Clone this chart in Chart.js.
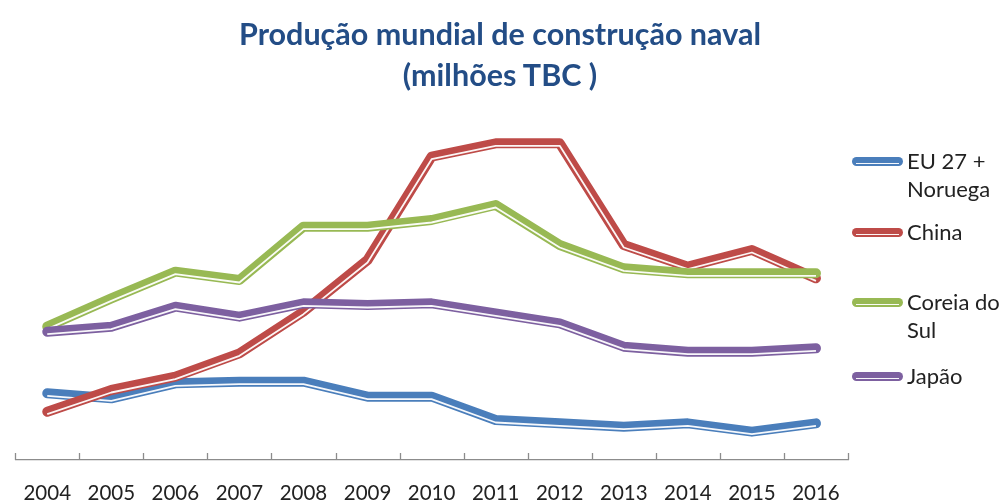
<!DOCTYPE html>
<html>
<head>
<meta charset="utf-8">
<script src="https://cdn.jsdelivr.net/npm/chart.js@4"></script>
<style>
  body { margin: 0; background: #fff; font-family: Lato, "Open Sans", sans-serif; }
  #wrap { position: relative; width: 1000px; height: 502px; overflow: hidden; }
  #title { position: absolute; left: 0; top: 13px; width: 1000px; text-align: center;
           color: #234d86; font-weight: bold; font-size: 30.5px; line-height: 41px; }
  canvas { position: absolute; left: 0; top: 0; }
  .key { position: absolute; left: 852px; width: 51px; height: 9px; border-radius: 4.5px; }
  .key::after { content: ""; position: absolute; left: 4px; right: 4px; top: 5.5px; height: 1.6px; background: rgba(255,255,255,0.95); }
  .lbl { position: absolute; left: 907px; color: #222; font-size: 22px; line-height: 28px; }
</style>
</head>
<body>
<div id="wrap">
  <canvas id="chart" width="1000" height="502"></canvas>
  <div id="title">Produção mundial de construção naval<br>(milhões TBC )</div>
  <div id="legend"></div>
</div>
<script>
const years = ['2004', '2005', '2006', '2007', '2008', '2009', '2010', '2011', '2012', '2013', '2014', '2015', '2016'];
const euNoruega   = [4.0, 3.7, 4.6, 4.7, 4.7, 3.8, 3.8, 2.4, 2.2, 2.0, 2.2, 1.7, 2.2];
const china       = [2.9, 4.2, 5.0, 6.4, 8.9, 12.0, 18.2, 19.0, 19.0, 12.9, 11.6, 12.6, 10.9];
const coreiaDoSul = [8.0, 9.7, 11.3, 10.8, 14.0, 14.0, 14.4, 15.3, 12.9, 11.5, 11.2, 11.2, 11.2];
const japao       = [7.7, 8.0, 9.2, 8.6, 9.4, 9.3, 9.4, 8.8, 8.2, 6.8, 6.5, 6.5, 6.7];

const seriesNames  = [['EU 27 +', 'Noruega'], ['China'], ['Coreia do', 'Sul'], ['Japão']];
const seriesColors = ['#4a7ebb', '#be4b48', '#98b954', '#7d60a0'];
const legendTops   = [147, 218, 288, 362];

// thin white highlight running just below the centre of each thick line
const innerLine = {
  id: 'innerLine',
  afterDatasetDraw(chart, args) {
    const pts = args.meta.data;
    const ctx = chart.ctx;
    ctx.save();
    ctx.translate(0, 2.5);
    ctx.beginPath();
    pts.forEach((p, i) => i ? ctx.lineTo(p.x, p.y) : ctx.moveTo(p.x, p.y));
    ctx.strokeStyle = 'rgba(255,255,255,0.95)';
    ctx.lineWidth = 1.8;
    ctx.lineJoin = 'round';
    ctx.stroke();
    ctx.restore();
  }
};

// small tick marks between categories, pointing up from the axis
const axisTicks = {
  id: 'axisTicks',
  afterDraw(chart) {
    const x = chart.scales.x;
    const ctx = chart.ctx;
    const bottom = chart.chartArea.bottom;
    const step = x.getPixelForValue(1) - x.getPixelForValue(0);
    ctx.save();
    ctx.strokeStyle = '#8c8c8c';
    ctx.lineWidth = 1.3;
    for (let i = 0; i <= years.length; i++) {
      const px = Math.round(x.getPixelForValue(0) - step / 2 + i * step) + 0.5;
      ctx.beginPath();
      ctx.moveTo(px, bottom - 7);
      ctx.lineTo(px, bottom);
      ctx.stroke();
    }
    ctx.restore();
  }
};

const values = [euNoruega, china, coreiaDoSul, japao];
const datasets = values.map((data, i) => ({
  label: seriesNames[i].join(' '),
  data: data,
  borderColor: seriesColors[i],
  borderWidth: 10,
  borderJoinStyle: 'round',
  borderCapStyle: 'round',
  pointRadius: 0,
  tension: 0,
  fill: false,
  order: values.length - i
}));

new Chart(document.getElementById('chart'), {
  type: 'line',
  data: { labels: years, datasets: datasets },
  options: {
    responsive: false,
    animation: false,
    layout: { padding: { left: 12, right: 152, top: 110, bottom: 0 } },
    plugins: { legend: { display: false }, tooltip: { enabled: false }, title: { display: false } },
    scales: {
      x: {
        offset: true,
        afterFit: (scale) => { scale.height = 42; },
        grid: { display: false, drawTicks: false, tickLength: 0 },
        border: { display: true, color: '#8c8c8c', width: 1.3 },
        ticks: { color: '#222', padding: 23, maxRotation: 0, autoSkip: false,
                 font: { family: 'Lato', size: 20.5, lineHeight: 1 } }
      },
      y: { display: false, min: 0, max: 21 }
    }
  },
  plugins: [innerLine, axisTicks]
});

// legend built from the same series names and colours
const legend = document.getElementById('legend');
seriesNames.forEach((lines, i) => {
  const key = document.createElement('div');
  key.className = 'key';
  key.style.background = seriesColors[i];
  key.style.top = (legendTops[i] + 10) + 'px';
  legend.appendChild(key);
  const lbl = document.createElement('div');
  lbl.className = 'lbl';
  lbl.style.top = legendTops[i] + 'px';
  lbl.innerHTML = lines.join('<br>');
  legend.appendChild(lbl);
});
</script>
</body>
</html>
